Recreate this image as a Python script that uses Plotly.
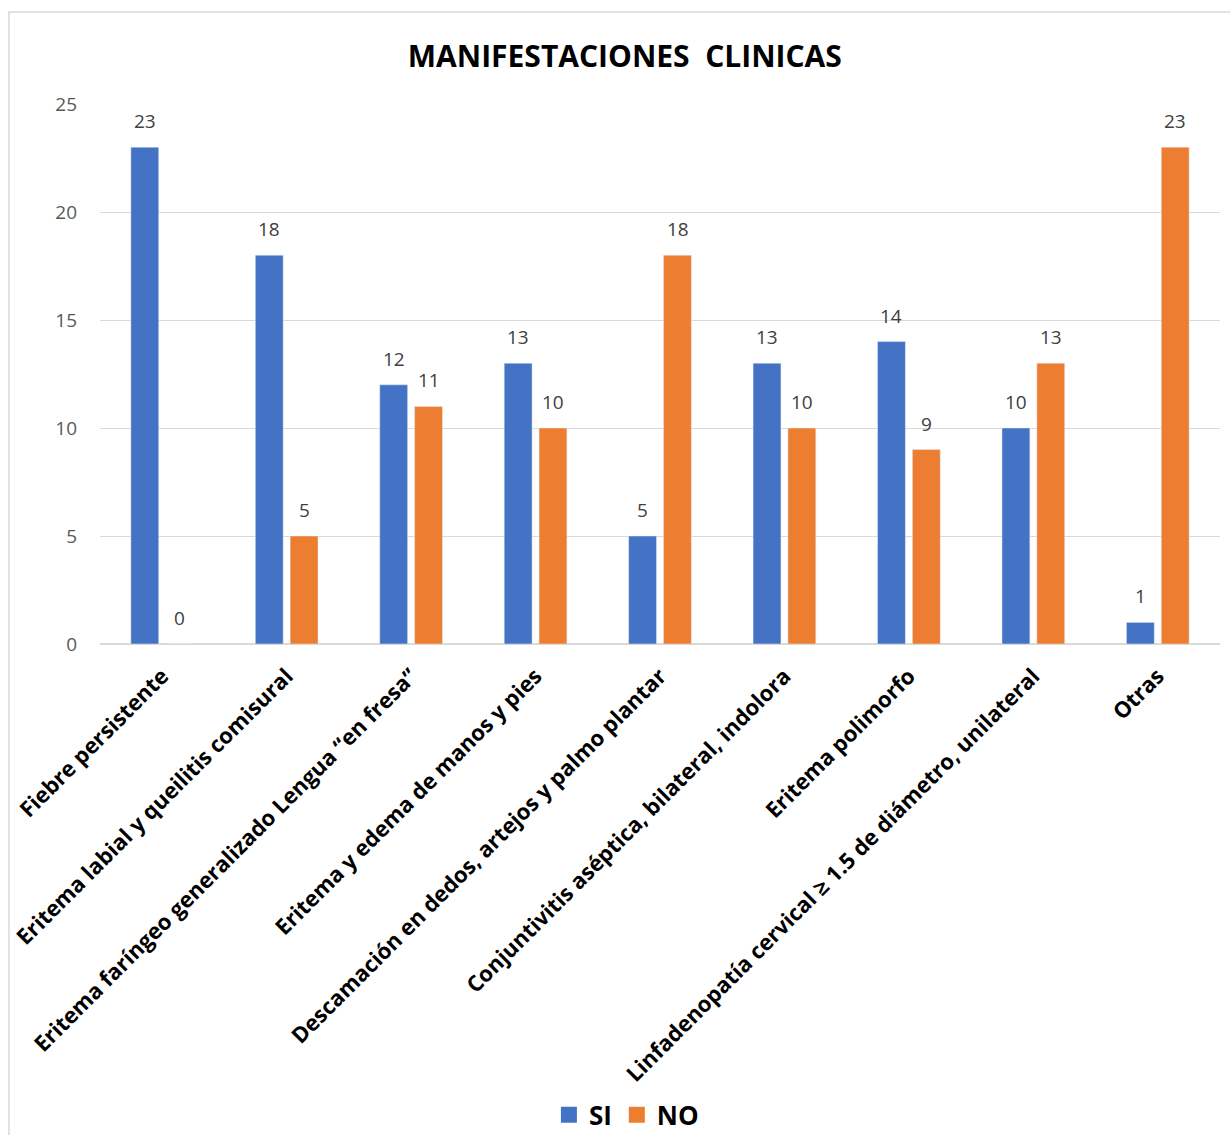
import plotly.graph_objects as go

categories = [
    "Fiebre persistente",
    "Eritema labial y queilitis comisural",
    "Eritema faríngeo generalizado Lengua “en fresa”",
    "Eritema y edema de manos y pies",
    "Descamación en dedos, artejos y palmo plantar",
    "Conjuntivitis aséptica, bilateral, indolora",
    "Eritema polimorfo",
    "Linfadenopatía cervical ≥ 1.5 de diámetro, unilateral",
    "Otras",
]
si_values = [23, 18, 12, 13, 5, 13, 14, 10, 1]
no_values = [0, 5, 11, 10, 18, 10, 9, 13, 23]
series_names = ["SI", "NO"]

BLUE = "#4472C4"
ORANGE = "#ED7D31"
FONT = "Open Sans"

fig = go.Figure()
fig.add_trace(go.Bar(name=series_names[0], x=categories, y=si_values,
                     marker_color=BLUE, showlegend=False))
fig.add_trace(go.Bar(name=series_names[1], x=categories, y=no_values,
                     marker_color=ORANGE, showlegend=False))

# legend entries with larger square swatches
for name, color in zip(series_names, (BLUE, ORANGE)):
    fig.add_trace(go.Scatter(
        x=[None], y=[None], mode="markers", name=name,
        marker=dict(symbol="square", size=18, color=color),
    ))

# value labels above each bar
for vals, shift in ((si_values, -17.5), (no_values, 17.5)):
    for cat, v in zip(categories, vals):
        fig.add_annotation(
            x=cat, y=v, text=str(v), showarrow=False,
            xshift=shift, yshift=26, yanchor="middle",
            font=dict(family=FONT, size=19, color="#404040"),
        )

# outer chart border
fig.add_shape(
    type="rect", xref="paper", yref="paper",
    x0=-0.0813, x1=1.05, y0=-1.2, y1=1.1704,
    line=dict(color="#D9D9D9", width=1.5), layer="below",
)

fig.update_layout(
    width=1230, height=1135,
    margin=dict(l=100, r=10, t=104, b=491, autoexpand=False),
    paper_bgcolor="white", plot_bgcolor="white",
    barmode="group", bargap=0.44, bargroupgap=0.2,
    title=dict(
        text="<b>MANIFESTACIONES  CLINICAS</b>",
        x=0.508, xanchor="center", y=0.95, yanchor="middle",
        font=dict(family=FONT, size=30, color="black"),
    ),
    xaxis=dict(
        tickangle=-45, showgrid=False, showline=False, ticks="",
        tickfont=dict(family=FONT, size=22, color="black", weight="bold"),
        ticklabelstandoff=14, automargin=False,
    ),
    yaxis=dict(
        range=[0, 25], dtick=5, showgrid=True, gridcolor="#D9D9D9", gridwidth=1,
        zeroline=True, zerolinecolor="#D9D9D9", zerolinewidth=1.5,
        showline=False, ticks="",
        tickfont=dict(family=FONT, size=19, color="#595959"),
        ticklabelstandoff=22, automargin=False,
    ),
    legend=dict(
        orientation="h", x=0.47, xanchor="center", y=-0.872, yanchor="middle",
        font=dict(family=FONT, size=26, color="black", weight="bold"),
        itemsizing="trace", itemwidth=30,
    ),
)

fig.write_html("out.html")
